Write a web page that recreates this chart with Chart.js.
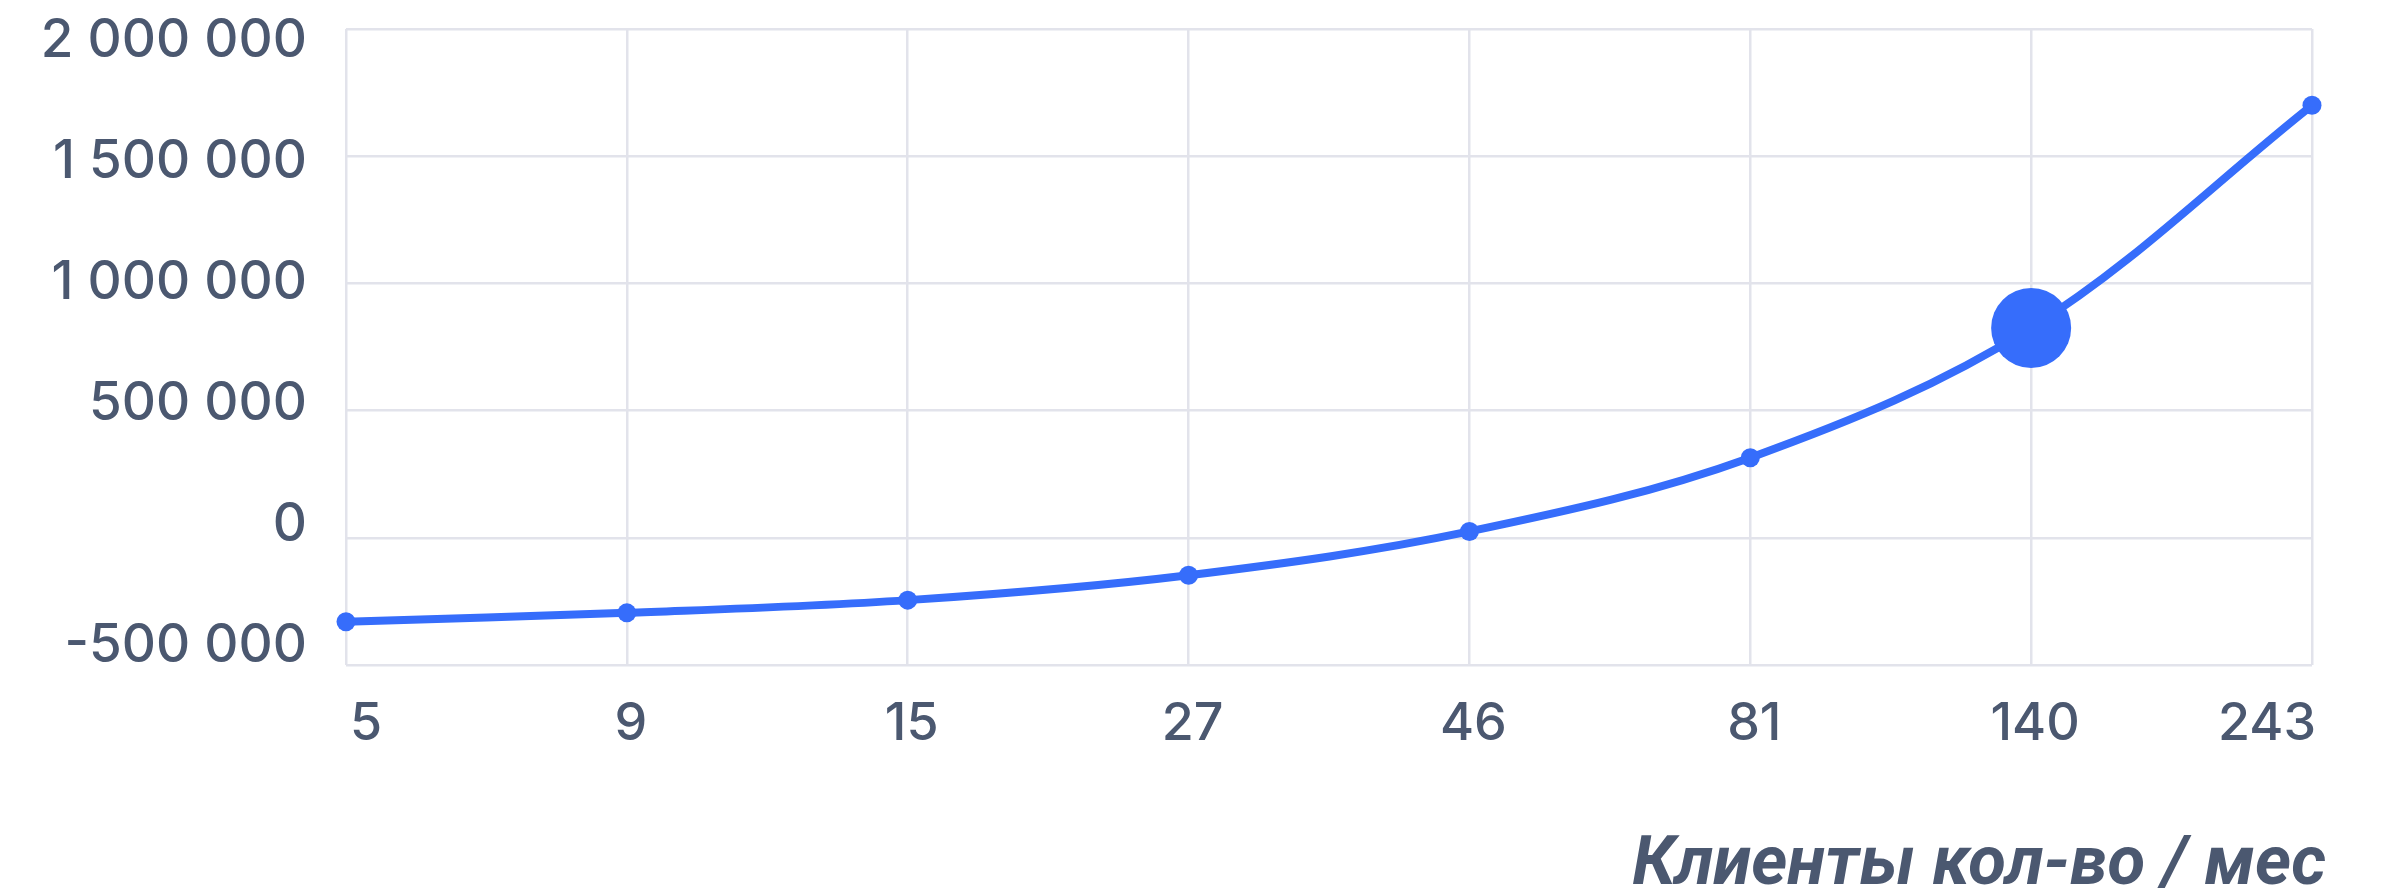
<!DOCTYPE html>
<html><head><meta charset="utf-8">
<script src="https://cdn.jsdelivr.net/npm/chart.js@4.4.1/dist/chart.umd.min.js"></script>
<style>html,body{margin:0;padding:0;background:#fff;overflow:hidden}</style>
</head><body>
<canvas id="c" width="2382" height="895" style="width:2382px;height:895px;display:block"></canvas>
<script>
// ---- data ----
const CLIENTS = ['5', '9', '15', '27', '46', '81', '140', '243'];
const PROFIT = [-330000, -295000, -245000, -147000, 25000, 315000, 825000, 1700000];
const Y_TICKS = [-500000, 0, 500000, 1000000, 1500000, 2000000];
const Y_MIN = -500000, Y_MAX = 2000000;
const Y_LABEL_MIN = -578500, Y_LABEL_MAX = 2049600;
const X_TITLE = 'Клиенты кол-во / мес';
const HIGHLIGHT = '140';

// ---- style ----
const BLUE = '#366dfb';
const GRID = '#e2e3eb';
const TXT = '#4b5870';

const fmt = v => (v < 0 ? '-' : '') + Math.abs(v).toString().replace(/\B(?=(\d{3})+(?!\d))/g, ' ');

// shift the x-axis title slightly past the plot's right edge, as in the reference
const titleShift = {
  id: 'titleShift',
  afterLayout(chart) {
    const s = chart.scales.x;
    if (s._patched) return;
    const orig = s.drawTitle;
    s.drawTitle = function () {
      const r = this.right;
      this.right = r + 14;
      orig.call(this);
      this.right = r;
    };
    s._patched = true;
  }
};

new Chart(document.getElementById('c'), {
  type: 'line',
  data: {
    labels: CLIENTS,
    datasets: [{
      data: PROFIT,
      borderColor: BLUE,
      backgroundColor: BLUE,
      borderWidth: 8,
      tension: 0.35,
      pointRadius: ctx => CLIENTS[ctx.dataIndex] === HIGHLIGHT ? 40 : 9.5,
      pointHoverRadius: ctx => CLIENTS[ctx.dataIndex] === HIGHLIGHT ? 40 : 9.5,
      pointBorderWidth: 0,
      pointBackgroundColor: BLUE,
      clip: false,
      yAxisID: 'y'
    }]
  },
  plugins: [titleShift],
  options: {
    responsive: false,
    animation: false,
    devicePixelRatio: 1,
    layout: { padding: { top: 29, right: 70, bottom: 0, left: 0 } },
    plugins: { legend: { display: false }, tooltip: { enabled: false } },
    scales: {
      x: {
        type: 'category',
        offset: false,
        grid: { color: GRID, lineWidth: 2.5, drawTicks: false },
        border: { display: false },
        ticks: { font: { family: 'Inter', size: 52, weight: '500' }, color: TXT, padding: 28, labelOffset: 4,
                 align: 'inner', maxRotation: 0, autoSkip: false },
        title: { display: true, text: X_TITLE, align: 'end', color: TXT,
                 font: { family: 'Roboto', size: 69, weight: 'bold', style: 'italic', lineHeight: 0.83 }, padding: 0 },
        afterFit(s) { s.height = 230; s.paddingLeft = 0; s.paddingRight = 0; }
      },
      y: {
        position: 'left',
        min: Y_MIN, max: Y_MAX,
        ticks: { display: false, stepSize: 500000 },
        grid: { color: GRID, lineWidth: 2.5, drawTicks: false },
        border: { display: false },
        afterFit(s) { s.width = 0; s.paddingTop = 0; s.paddingBottom = 0; }
      },
      yLabels: {
        position: 'left',
        min: Y_LABEL_MIN, max: Y_LABEL_MAX,
        grid: { display: false, drawTicks: false },
        border: { display: false },
        afterBuildTicks(s) { s.ticks = Y_TICKS.map(v => ({ value: v })); },
        ticks: { callback: v => fmt(v), font: { family: 'Inter', size: 53, weight: '500' }, color: TXT, padding: 39 },
        afterFit(s) { s.width = 346; s.paddingTop = 0; s.paddingBottom = 0; }
      }
    }
  }
});
</script>
</body></html>
